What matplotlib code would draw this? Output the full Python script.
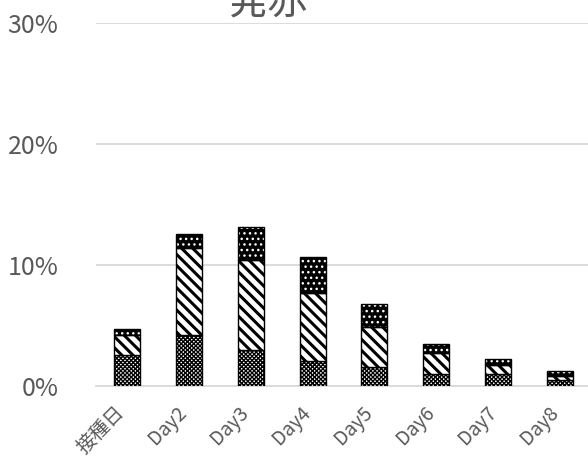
import numpy as np
import matplotlib
matplotlib.use("Agg")
import matplotlib.pyplot as plt
import matplotlib.transforms as mtrans

plt.rcParams['font.family'] = ['Noto Sans CJK JP', 'DejaVu Sans']

# data (percent)
days = ['接種日', 'Day2', 'Day3', 'Day4', 'Day5', 'Day6', 'Day7', 'Day8']
bottom_vals = [2.6, 4.2, 3.0, 2.1, 1.6, 1.0, 1.0, 0.5]
middle_vals = [1.6, 7.2, 7.4, 5.6, 3.3, 1.7, 0.7, 0.3]
top_vals = [0.5, 1.2, 2.7, 3.0, 1.9, 0.8, 0.5, 0.4]
yticks = [0, 10, 20, 30]
ylabels = ['0%', '10%', '20%', '30%']

fig = plt.figure(figsize=(5.88, 4.67), dpi=100)
W, H = 588, 467
ax = fig.add_axes([96 / W, (H - 386) / H, (591 - 96) / W, (386 - 23) / H])

x = np.arange(len(days))
bw = 0.42
b = np.array(bottom_vals)
m = np.array(middle_vals)
t = np.array(top_vals)

plt.rcParams['hatch.linewidth'] = 1.0
ax.bar(x, b, bw, color='white', edgecolor='black', hatch='xxxxxxxx', linewidth=1.0, zorder=3)
plt.rcParams['hatch.linewidth'] = 2.2
ax.bar(x, m, bw, bottom=b, color='white', edgecolor='black', hatch='\\\\\\', linewidth=1.0, zorder=3)
plt.rcParams['hatch.linewidth'] = 1.0
ax.bar(x, t, bw, bottom=b + m, color='black', edgecolor='white', hatch='...', linewidth=0, zorder=3)
ax.bar(x, t, bw, bottom=b + m, fill=False, edgecolor='black', linewidth=1.0, zorder=4)

ax.set_xlim(-0.5, len(days) - 0.5)
ax.set_ylim(0, 30)
ax.set_yticks(yticks)
ax.set_yticklabels(ylabels, fontsize=18, color='#595959')
ax.set_xticks(x)
ax.set_xticklabels(days, fontsize=14, color='#595959', rotation=45,
                   ha='right', va='center', rotation_mode='anchor')
ax.tick_params(axis='both', length=0)
ax.tick_params(axis='y', pad=27)
ax.tick_params(axis='x', pad=17)
shift = mtrans.ScaledTranslation(-5 / 100, 0, fig.dpi_scale_trans)
for lab in ax.get_xticklabels():
    lab.set_transform(lab.get_transform() + shift)
ax.grid(axis='y', color='#d9d9d9', linewidth=1.3, zorder=0)
for s in ['top', 'right', 'left']:
    ax.spines[s].set_visible(False)
ax.spines['bottom'].set_color('#d9d9d9')
ax.spines['bottom'].set_linewidth(1.3)

fig.text(268 / W, 1 - 24 / H, '発赤', fontsize=29, color='#595959', ha='center', va='bottom')

fig.savefig('out.png', dpi=100)
